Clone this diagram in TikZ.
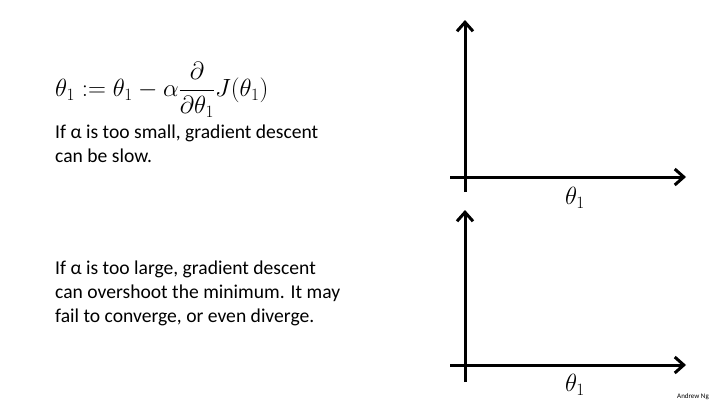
\documentclass[tikz,border=0pt]{standalone}
\usepackage{fontspec}
\usepackage{amsmath}
\setmainfont{Carlito}
\usetikzlibrary{arrows.meta}
\begin{document}
\begin{tikzpicture}[x=1pt,y=-1pt,
  ax/.style={line width=3pt,-{Straight Barb[length=9pt,width=16pt,line width=3pt]}},
  txt/.style={anchor=north west,align=left,font=\fontsize{19.6}{24}\selectfont,inner sep=0pt}]
\useasboundingbox (0,0) rectangle (720,405);
\node[anchor=west,inner sep=0pt] (f) at (55,90) {\fontsize{24}{26}\selectfont$\theta_1 := \theta_1 - \alpha\dfrac{\partial}{\partial\theta_1}J(\theta_1)$};
\node[txt] (t1) at (55,125) {If α is too small, gradient descent\\can be slow.};
\node[txt] (t2) at (55,261) {If α is too large, gradient descent\\can overshoot the minimum. It may\\fail to converge, or even diverge.};
\coordinate (v1a) at (465,192); \coordinate (v1b) at (465,20);
\coordinate (h1a) at (450,177); \coordinate (h1b) at (686,177);
\draw[ax] (v1a) -- (v1b);
\draw[ax] (h1a) -- (h1b);
\node (l1) at (575,198) {\fontsize{24}{26}\selectfont$\theta_1$};
\coordinate (v2a) at (465,382); \coordinate (v2b) at (465,210);
\coordinate (h2a) at (450,365); \coordinate (h2b) at (686,365);
\draw[ax] (v2a) -- (v2b);
\draw[ax] (h2a) -- (h2b);
\node (l2) at (575,385) {\fontsize{24}{26}\selectfont$\theta_1$};
\node[font=\fontsize{7}{8}\selectfont] (ng) at (693,397) {Andrew Ng};
\end{tikzpicture}
\end{document}
